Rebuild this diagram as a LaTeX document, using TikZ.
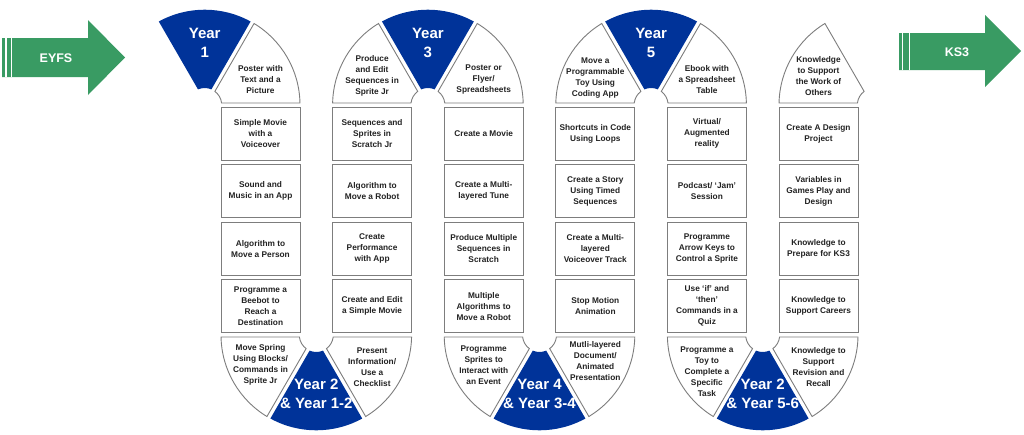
\documentclass[tikz,border=0pt]{standalone}
\usepackage{fontspec}
\setmainfont{Liberation Sans}
\usetikzlibrary{positioning}
\usepackage{xcolor}
\definecolor{yearblue}{RGB}{0,51,153}
\definecolor{stagegreen}{RGB}{57,155,99}
\definecolor{edgegray}{RGB}{125,125,125}
\definecolor{textdark}{RGB}{34,34,34}

% one piece of an arch: centre, start angle, end angle, style
\newcommand{\archpiece}[4]{%
  \path[#4, shift={(#1)}] ({#2+1.2}:95.3) arc[start angle={#2+1.2}, end angle={#3-1.2}, radius=95.3]
    -- ({#3-6.8}:17) arc[start angle={#3-6.8}, end angle={#2+6.8}, radius=17] -- cycle;}

\begin{document}
\begin{tikzpicture}[x=1pt, y=1pt,
    stepbox/.style={draw=edgegray, line width=0.9pt, minimum width=79pt, minimum height=53pt,
      inner sep=1pt, align=center, text=textdark, font=\bfseries\fontsize{8.3}{11}\selectfont},
    piecetext/.style={align=center, text=textdark, font=\bfseries\fontsize{8.3}{11}\selectfont},
    sidepiece/.style={draw=edgegray, line width=0.9pt, fill=white},
    yearpiece/.style={fill=yearblue},
    yeartext/.style={align=center, text=white, font=\bfseries\fontsize{15}{18.5}\selectfont},
    stagetext/.style={text=white, font=\bfseries\fontsize{12.5}{15}\selectfont}]

    \useasboundingbox (0,0) rectangle (1024,-434);

    % EYFS and KS3 arrows
    \fill[stagegreen] (2,-38) -- (88,-38) -- (88,-20) -- (125,-57.5) -- (88,-95) -- (88,-77) -- (2,-77) -- cycle;
    \draw[white, line width=1.2pt] (6,-38) -- (6,-77) (11.5,-38) -- (11.5,-77);
    \node[stagetext] (eyfs) at (56,-58) {EYFS};

    \fill[stagegreen] (899,-33) -- (985,-33) -- (985,-15) -- (1021,-51) -- (985,-87) -- (985,-70) -- (899,-70) -- cycle;
    \draw[white, line width=1.2pt] (902.5,-33) -- (902.5,-70) (909.5,-33) -- (909.5,-70);
    \node[stagetext] (ks3) at (957,-52) {KS3};

    % top arches
    \archpiece{204.7,-105}{60}{120}{yearpiece}
    \archpiece{204.7,-105}{0}{60}{sidepiece}
    \archpiece{427.9,-105}{120}{180}{sidepiece}
    \archpiece{427.9,-105}{60}{120}{yearpiece}
    \archpiece{427.9,-105}{0}{60}{sidepiece}
    \archpiece{651.1,-105}{120}{180}{sidepiece}
    \archpiece{651.1,-105}{60}{120}{yearpiece}
    \archpiece{651.1,-105}{0}{60}{sidepiece}
    \archpiece{874.3,-105}{120}{180}{sidepiece}

    % bottom arches
    \archpiece{316.3,-335}{180}{240}{sidepiece}
    \archpiece{316.3,-335}{240}{300}{yearpiece}
    \archpiece{316.3,-335}{300}{360}{sidepiece}
    \archpiece{539.5,-335}{180}{240}{sidepiece}
    \archpiece{539.5,-335}{240}{300}{yearpiece}
    \archpiece{539.5,-335}{300}{360}{sidepiece}
    \archpiece{762.7,-335}{180}{240}{sidepiece}
    \archpiece{762.7,-335}{240}{300}{yearpiece}
    \archpiece{762.7,-335}{300}{360}{sidepiece}

    % year labels
    \node[yeartext] (year1) at (204.7,-43) {Year\\1};
    \node[yeartext] (year3) at (427.9,-43) {Year\\3};
    \node[yeartext] (year5) at (651.1,-43) {Year\\5};
    \node[yeartext] (year12) at (316.3,-394) {Year 2\\\& Year 1-2};
    \node[yeartext] (year34) at (539.5,-394) {Year 4\\\& Year 3-4};
    \node[yeartext] (year56) at (762.7,-394) {Year 2\\\& Year 5-6};

    % texts in the arch pieces
    \node[piecetext] (poster) at (260.5,-80) {Poster with\\Text and a\\Picture};
    \node[piecetext] (produce) at (372.1,-76) {Produce\\and Edit\\Sequences in\\Sprite Jr};
    \node[piecetext] (flyer) at (483.7,-80) {Poster or\\Flyer/\\Spreadsheets};
    \node[piecetext] (toy) at (595.3,-78) {Move a\\Programmable\\Toy Using\\Coding App};
    \node[piecetext] (ebook) at (706.9,-80) {Ebook with\\a Spreadsheet\\Table};
    \node[piecetext] (others) at (818.5,-76) {Knowledge\\to Support\\the Work of\\Others};
    \node[piecetext] (spring) at (260.5,-365) {Move Spring\\Using Blocks/\\Commands in\\Sprite Jr};
    \node[piecetext] (present) at (372.1,-367) {Present\\Information/\\Use a\\Checklist};
    \node[piecetext] (event) at (483.7,-365) {Programme\\Sprites to\\Interact with\\an Event};
    \node[piecetext] (document) at (595.3,-361) {Mutli-layered\\Document/\\Animated\\Presentation};
    \node[piecetext] (task) at (706.9,-372) {Programme a\\Toy to\\Complete a\\Specific\\Task};
    \node[piecetext] (recall) at (818.5,-367) {Knowledge to\\Support\\Revision and\\Recall};

    % column 1
    \node[stepbox] (c1r1) at (260.5,-133.5) {Simple Movie\\with a\\Voiceover};
    \node[stepbox, below=3.7pt of c1r1] (c1r2) {Sound and\\Music in an App};
    \node[stepbox, below=3.7pt of c1r2] (c1r3) {Algorithm to\\Move a Person};
    \node[stepbox, below=3.7pt of c1r3] (c1r4) {Programme a\\Beebot to\\Reach a\\Destination};

    % column 2
    \node[stepbox] (c2r1) at (372.1,-133.5) {Sequences and\\Sprites in\\Scratch Jr};
    \node[stepbox, below=3.7pt of c2r1] (c2r2) {Algorithm to\\Move a Robot};
    \node[stepbox, below=3.7pt of c2r2] (c2r3) {Create\\Performance\\with App};
    \node[stepbox, below=3.7pt of c2r3] (c2r4) {Create and Edit\\a Simple Movie};

    % column 3
    \node[stepbox] (c3r1) at (483.7,-133.5) {Create a Movie};
    \node[stepbox, below=3.7pt of c3r1] (c3r2) {Create a Multi-\\layered Tune};
    \node[stepbox, below=3.7pt of c3r2] (c3r3) {Produce Multiple\\Sequences in\\Scratch};
    \node[stepbox, below=3.7pt of c3r3] (c3r4) {Multiple\\Algorithms to\\Move a Robot};

    % column 4
    \node[stepbox] (c4r1) at (595.3,-133.5) {Shortcuts in Code\\Using Loops};
    \node[stepbox, below=3.7pt of c4r1] (c4r2) {Create a Story\\Using Timed\\Sequences};
    \node[stepbox, below=3.7pt of c4r2] (c4r3) {Create a Multi-\\layered\\Voiceover Track};
    \node[stepbox, below=3.7pt of c4r3] (c4r4) {Stop Motion\\Animation};

    % column 5
    \node[stepbox] (c5r1) at (706.9,-133.5) {Virtual/\\Augmented\\reality};
    \node[stepbox, below=3.7pt of c5r1] (c5r2) {Podcast/ ‘Jam’\\Session};
    \node[stepbox, below=3.7pt of c5r2] (c5r3) {Programme\\Arrow Keys to\\Control a Sprite};
    \node[stepbox, below=3.7pt of c5r3] (c5r4) {Use ‘if’ and\\‘then’\\Commands in a\\Quiz};

    % column 6
    \node[stepbox] (c6r1) at (818.5,-133.5) {Create A Design\\Project};
    \node[stepbox, below=3.7pt of c6r1] (c6r2) {Variables in\\Games Play and\\Design};
    \node[stepbox, below=3.7pt of c6r2] (c6r3) {Knowledge to\\Prepare for KS3};
    \node[stepbox, below=3.7pt of c6r3] (c6r4) {Knowledge to\\Support Careers};
\end{tikzpicture}
\end{document}
